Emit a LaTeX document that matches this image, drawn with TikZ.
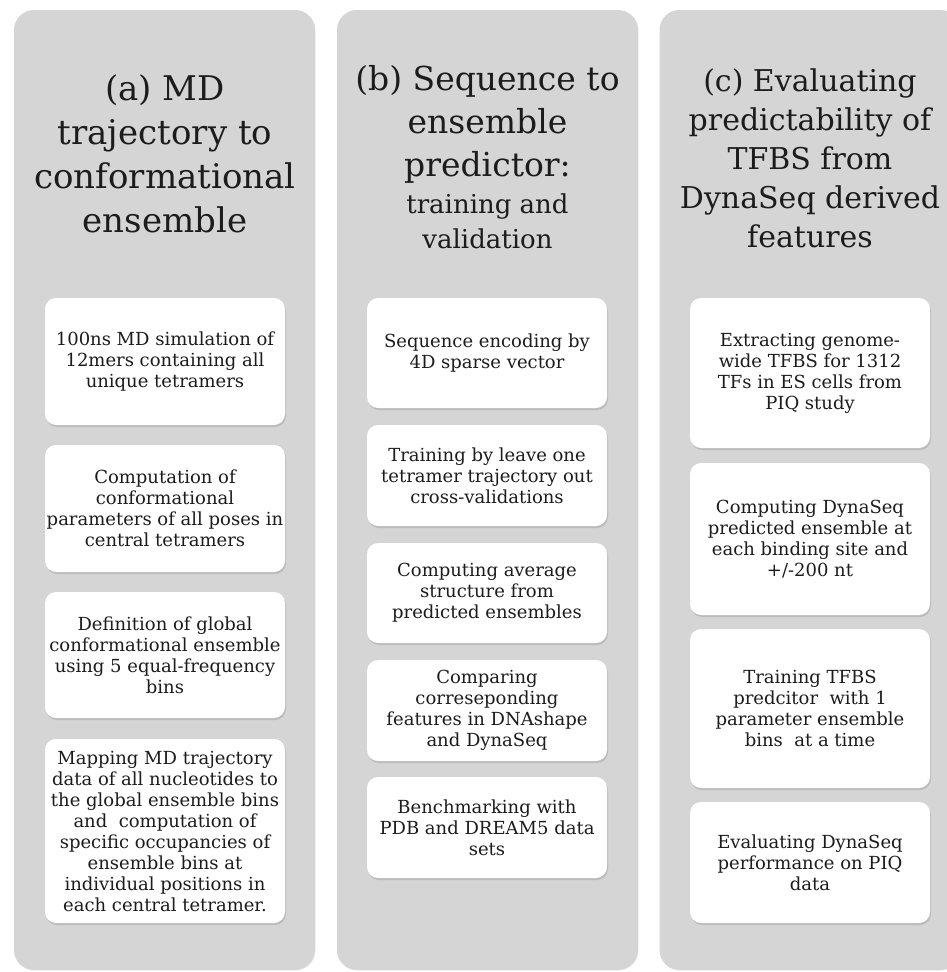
\documentclass[tikz,border=0pt]{standalone}
\usepackage{fontspec}
\setmainfont{DejaVu Serif}
\usetikzlibrary{shadows}

\definecolor{lanegray}{RGB}{213,213,213}
\definecolor{inkgray}{RGB}{28,28,28}

\tikzset{
    lane/.style={rectangle, fill=lanegray, rounded corners=20pt, inner sep=0pt,
        minimum width=301pt, minimum height=960pt,
        drop shadow={shadow xshift=0.6pt, shadow yshift=-0.6pt, opacity=0.12}},
    heading/.style={align=center, text=inkgray, inner sep=0pt},
    stepbox/.style={rectangle, fill=white, rounded corners=11pt, inner sep=0pt,
        minimum width=240pt, align=center, text=inkgray,
        font=\fontsize{18}{21}\selectfont,
        drop shadow={shadow xshift=1pt, shadow yshift=-2pt, opacity=0.3}},
}

\begin{document}
\begin{tikzpicture}[x=1pt, y=-1pt]
        \useasboundingbox (0,0) rectangle (947,972);

        % Gray lanes
        \node[lane] (lanea) at (164.5,490) {};
        \node[lane] (laneb) at (487.5,490) {};
        \node[lane] (lanec) at (810,490) {};

        % Headings
        \node[heading, font=\fontsize{34}{44}\selectfont] (heada) at (165,154)
            {(a) MD\\trajectory to\\conformational\\ensemble};
        \node[heading, font=\fontsize{33}{43}\selectfont] (headb) at (487.5,124)
            {(b) Sequence to\\ensemble\\predictor:};
        \node[heading, font=\fontsize{26}{35}\selectfont] (subb) at (487.5,221)
            {training and\\validation};
        \node[heading, font=\fontsize{30}{39}\selectfont] (headc) at (810,158)
            {(c) Evaluating\\predictability of\\TFBS from\\DynaSeq derived\\features};

        % Steps of lane (a)
        \foreach \name/\y/\h/\txt in {
            stepa1/361.5/127/{100ns MD simulation of\\12mers containing all\\unique tetramers},
            stepa2/508.5/127/{Computation of\\conformational\\parameters of all poses in\\central tetramers},
            stepa3/655/126/{Definition of global\\conformational ensemble\\using 5 equal-frequency\\bins},
            stepa4/831/184/{Mapping MD trajectory\\data of all nucleotides to\\the global ensemble bins\\and\ \ computation of\\specific occupancies of\\ensemble bins at\\individual positions in\\each central tetramer.}} {
            \node[stepbox, minimum height=\h pt] (\name) at (165,\y) {\txt};
        }

        % Steps of lane (b)
        \foreach \name/\y/\h/\txt in {
            stepb1/353/110/{Sequence encoding by\\4D sparse vector},
            stepb2/475.5/101/{Training by leave one\\tetramer trajectory out\\cross-validations},
            stepb3/593/100/{Computing average\\structure from\\predicted ensembles},
            stepb4/710.5/101/{Comparing\\correseponding\\features in DNAshape\\and DynaSeq},
            stepb5/827.5/101/{Benchmarking with\\PDB and DREAM5 data\\sets}} {
            \node[stepbox, minimum height=\h pt] (\name) at (487,\y) {\txt};
        }

        % Steps of lane (c)
        \foreach \name/\y/\h/\txt in {
            stepc1/373/150/{Extracting genome-\\wide TFBS for 1312\\TFs in ES cells from\\PIQ study},
            stepc2/539/152/{Computing DynaSeq\\predicted ensemble at\\each binding site and\\+/-200 nt},
            stepc3/708.5/159/{Training TFBS\\predcitor\ \ with 1\\parameter ensemble\\bins\ \ at a time},
            stepc4/862.5/121/{Evaluating DynaSeq\\performance on PIQ\\data}} {
            \node[stepbox, minimum height=\h pt] (\name) at (810,\y) {\txt};
        }

    \end{tikzpicture}
\end{document}
